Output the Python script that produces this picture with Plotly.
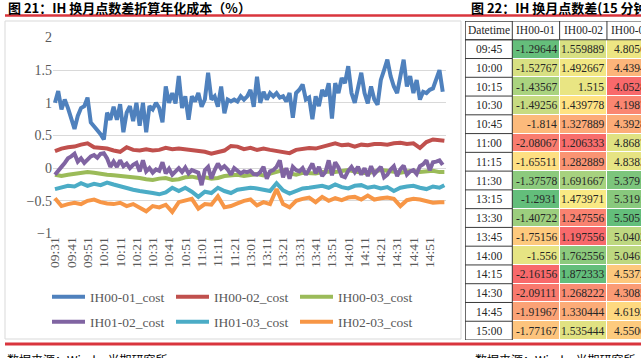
import plotly.graph_objects as go

W, H = 641, 358

# ---------------- line chart data ----------------
tick_labels = ['09:31', '09:41', '09:51', '10:01', '10:11', '10:21', '10:31', '10:41',
               '10:51', '11:01', '11:11', '11:21', '13:01', '13:11', '13:21', '13:31',
               '13:41', '13:51', '14:01', '14:11', '14:21', '14:31', '14:41', '14:51']
tick_minutes = list(range(0, 240, 10))          # minute offset of each tick label
fine_minutes = list(range(0, 240, 2))           # 2-minute samples
coarse_minutes = list(range(0, 240, 4)) + [239]  # 4-minute samples

ih00_01_cost = [
    1.00, 1.18, 0.90, 1.05, 0.92, 0.75, 0.60, 0.80, 0.92, 0.95,
    1.08, 0.70, 0.65, 0.58, 0.52, 0.44, 0.85, 0.74, 0.94, 0.74,
    0.98, 0.55, 0.85, 0.95, 0.72, 1.00, 0.65, 1.00, 0.55, 0.95,
    0.90, 1.00, 0.92, 0.70, 1.25, 1.00, 1.15, 0.99, 1.41, 0.92,
    1.10, 0.74, 1.10, 1.02, 1.15, 0.94, 1.05, 1.46, 1.05, 1.10,
    0.94, 1.25, 0.84, 1.05, 1.02, 1.05, 1.02, 1.10, 1.05, 1.10,
    1.20, 0.94, 1.40, 1.00, 1.17, 1.05, 1.15, 1.10, 1.15, 1.08,
    1.10, 1.02, 1.15, 0.77, 1.15, 1.20, 1.28, 1.05, 1.08, 0.75,
    1.10, 0.95, 1.20, 1.10, 1.30, 0.76, 1.30, 1.15, 1.38, 1.30,
    1.56, 1.15, 1.00, 1.25, 1.46, 1.15, 0.99, 1.25, 1.05, 0.97,
    1.35, 1.50, 1.66, 1.41, 1.25, 1.15, 1.40, 1.66, 1.25, 1.41,
    1.15, 1.35, 1.05, 1.17, 1.15, 1.20, 1.22, 1.35, 1.50, 1.17]

ih01_02_cost = [
    -0.10, -0.03, 0.02, 0.08, 0.15, 0.18, 0.22, 0.10, 0.15, 0.08,
    0.14, 0.18, 0.20, 0.16, 0.22, 0.23, 0.15, 0.02, 0.10, 0.02,
    0.12, 0.03, 0.07, 0.00, 0.05, 0.08, -0.05, 0.12, -0.05, 0.00, -0.07, -0.02,
    -0.04, 0.09, -0.08, -0.01, -0.10, -0.04, 0.00, -0.06, 0.01, -0.08, -0.03, -0.05,
    -0.07, -0.26, -0.03, 0.02, -0.16, -0.03, 0.07, -0.01, 0.03, -0.02, -0.10, 0.00,
    -0.05, -0.08, -0.05, -0.06, -0.04, -0.09, -0.10, -0.06, 0.02, -0.16, -0.05, -0.03,
    0.02, 0.12, -0.14, 0.00, -0.16, 0.02, -0.03, -0.05, 0.00, -0.10, -0.02, 0.07,
    -0.08, 0.02, -0.12, -0.06, 0.12, -0.11, 0.09, 0.01, -0.12, -0.14, -0.04, 0.02,
    -0.06, 0.02, -0.10, 0.00, -0.12, 0.03, -0.09, -0.03, 0.02, -0.14, -0.10, -0.02,
    0.03, -0.12, -0.02, 0.04, -0.10, -0.05, -0.03, -0.09, 0.03, 0.06, 0.12, -0.03,
    0.09, 0.10, 0.12, 0.05]

ih00_02_cost = [
    0.26, 0.30, 0.32, 0.33, 0.36, 0.38, 0.32, 0.31, 0.30, 0.27,
    0.25, 0.32, 0.28, 0.27, 0.29, 0.27, 0.28, 0.31, 0.29, 0.30,
    0.29, 0.27, 0.26, 0.25, 0.22, 0.24, 0.27, 0.34, 0.33, 0.29,
    0.31, 0.28, 0.30, 0.28, 0.26, 0.25, 0.23, 0.28, 0.29, 0.31,
    0.30, 0.33, 0.35, 0.38, 0.35, 0.36, 0.33, 0.36, 0.35, 0.37,
    0.37, 0.36, 0.38, 0.39, 0.37, 0.38, 0.31, 0.40, 0.44, 0.43,
    0.42]

ih00_03_cost = [
    -0.10, -0.12, -0.10, -0.09, -0.08, -0.06, -0.07, -0.09, -0.10, -0.11,
    -0.12, -0.12, -0.14, -0.15, -0.17, -0.18, -0.16, -0.15, -0.18, -0.17,
    -0.14, -0.13, -0.15, -0.14, -0.16, -0.15, -0.12, -0.11, -0.10, -0.12,
    -0.10, -0.09, -0.11, -0.08, -0.05, -0.03, -0.08, -0.10, -0.07, -0.08,
    -0.08, -0.06, -0.05, -0.06, -0.04, -0.03, -0.05, -0.06, -0.08, -0.05,
    -0.03, -0.04, -0.06, -0.07, -0.05, -0.04, -0.06, -0.05, -0.04, -0.06,
    -0.06]

ih01_03_cost = [
    -0.32, -0.30, -0.27, -0.28, -0.23, -0.27, -0.24, -0.26, -0.22, -0.25,
    -0.28, -0.30, -0.33, -0.35, -0.36, -0.38, -0.40, -0.37, -0.30, -0.35,
    -0.30, -0.36, -0.44, -0.36, -0.38, -0.30, -0.35, -0.38, -0.33, -0.32,
    -0.30, -0.31, -0.33, -0.35, -0.23, -0.34, -0.39, -0.35, -0.31, -0.30,
    -0.28, -0.27, -0.30, -0.25, -0.29, -0.31, -0.27, -0.26, -0.30, -0.28,
    -0.31, -0.29, -0.35, -0.30, -0.28, -0.27, -0.30, -0.32, -0.28, -0.30,
    -0.26]

ih02_03_cost = [
    -0.46, -0.58, -0.55, -0.53, -0.55, -0.50, -0.48, -0.52, -0.54, -0.55,
    -0.53, -0.58, -0.55, -0.60, -0.66, -0.58, -0.60, -0.56, -0.67, -0.52,
    -0.50, -0.47, -0.62, -0.55, -0.56, -0.43, -0.60, -0.58, -0.54, -0.50,
    -0.48, -0.57, -0.52, -0.55, -0.32, -0.55, -0.60, -0.50, -0.47, -0.45,
    -0.52, -0.44, -0.50, -0.46, -0.49, -0.45, -0.44, -0.48, -0.42, -0.48,
    -0.46, -0.45, -0.47, -0.58, -0.49, -0.47, -0.48, -0.50, -0.53, -0.52,
    -0.52]

y_ticks = [-1, -0.5, 0, 0.5, 1, 1.5, 2]

# ---------------- table data ----------------
table_header = ['Datetime', 'IH00-01', 'IH00-02', 'IH00-03']
table_times = ['09:45', '10:00', '10:15', '10:30', '10:45', '11:00', '11:15', '11:30',
               '13:15', '13:30', '13:45', '14:00', '14:15', '14:30', '14:45', '15:00']
tbl_ih00_01 = [-1.29644, -1.52767, -1.43567, -1.49256, -1.814, -2.08067, -1.65511, -1.37578,
               -1.2931, -1.40722, -1.75156, -1.556, -2.16156, -2.09111, -1.91967, -1.77167]
tbl_ih00_02 = [1.559889, 1.492667, 1.515, 1.439778, 1.327889, 1.206333, 1.282889, 1.691667,
               1.473971, 1.247556, 1.197556, 1.762556, 1.872333, 1.268222, 1.330444, 1.535444]
tbl_ih00_03 = [4.8056, 4.4394, 4.0528, 4.1987, 4.3928, 4.8687, 4.8383, 5.3791,
               5.3191, 5.5051, 5.0402, 5.0461, 4.5372, 4.3085, 4.6193, 4.5506]

# ---------------- helpers ----------------
def fx(p):
    return p / W

def fy(p):
    return 1 - p / H

def excel_scale(vals):
    s = sorted(vals)
    n = len(s)
    med = (s[n // 2 - 1] + s[n // 2]) / 2 if n % 2 == 0 else s[n // 2]
    lo, hi = s[0], s[-1]
    out = []
    for v in vals:
        if v <= med:
            out.append(0.5 * (v - lo) / (med - lo) if med > lo else 0.5)
        else:
            out.append(0.5 + 0.5 * (v - med) / (hi - med))
    return out

fig = go.Figure()

series = [
    ('IH00-01_cost', fine_minutes, ih00_01_cost, '#4F81BD', 'legend'),
    ('IH00-02_cost', coarse_minutes, ih00_02_cost, '#C0504D', 'legend'),
    ('IH00-03_cost', coarse_minutes, ih00_03_cost, '#9BBB59', 'legend'),
    ('IH01-02_cost', fine_minutes, ih01_02_cost, '#8064A2', 'legend2'),
    ('IH01-03_cost', coarse_minutes, ih01_03_cost, '#4BACC6', 'legend2'),
    ('IH02-03_cost', coarse_minutes, ih02_03_cost, '#F79646', 'legend2'),
]
for name, xs, ys, col, lg in series:
    fig.add_trace(go.Scatter(x=xs, y=ys, name=name, mode='lines',
                             line=dict(color=col, width=4), legend=lg,
                             xaxis='x', yaxis='y', hoverinfo='skip'))

# ---------------- heatmap table ----------------
cols = [tbl_ih00_01, tbl_ih00_02, tbl_ih00_03]
norm = [excel_scale(c) for c in cols]
nrows = len(table_times) + 1
z = [[None] * 4]
for r in range(len(table_times)):
    z.append([None] + [norm[c][r] for c in range(3)])

fig.add_trace(go.Heatmap(
    z=z, x=list(range(4)), y=list(range(nrows)),
    colorscale=[[0, '#F8696B'], [0.5, '#FFEB84'], [1, '#63BE7B']],
    zmin=0, zmax=1, showscale=False, xgap=1, ygap=1,
    xaxis='x2', yaxis='y2', hoverinfo='skip'))

x2_right = 3.22
shapes = []
annotations = []
line_dark = dict(color='#3a3a3a', width=1)
# Datetime column borders
for r in range(nrows + 1):
    shapes.append(dict(type='line', xref='x2', yref='y2', x0=-0.5, x1=0.5,
                       y0=r - 0.5, y1=r - 0.5, line=line_dark))
shapes.append(dict(type='line', xref='x2', yref='y2', x0=-0.5, x1=-0.5,
                   y0=-0.5, y1=nrows - 0.5, line=dict(color='#3a3a3a', width=1.5)))
shapes.append(dict(type='line', xref='x2', yref='y2', x0=0.5, x1=0.5,
                   y0=-0.5, y1=nrows - 0.5, line=line_dark))
# header borders
for yy in (-0.5, 0.5):
    shapes.append(dict(type='line', xref='x2', yref='y2', x0=-0.5, x1=x2_right,
                       y0=yy, y1=yy, line=line_dark))
for xx in (1.5, 2.5):
    shapes.append(dict(type='line', xref='x2', yref='y2', x0=xx, x1=xx,
                       y0=-0.5, y1=0.5, line=line_dark))

cell_font = dict(family='Liberation Serif', size=11.5, color='#262626')
for c, h in enumerate(table_header):
    annotations.append(dict(x=c, y=0, xref='x2', yref='y2', text=h, showarrow=False,
                            xanchor='center', yanchor='middle', font=cell_font))
for r, t in enumerate(table_times):
    annotations.append(dict(x=0, y=r + 1, xref='x2', yref='y2', text=t, showarrow=False,
                            xanchor='center', yanchor='middle', font=cell_font))
    for c in range(2):
        annotations.append(dict(x=c + 1.5, y=r + 1, xref='x2', yref='y2',
                                text=str(cols[c][r]), showarrow=False, xanchor='right',
                                xshift=-1, yanchor='middle', font=cell_font))
    annotations.append(dict(x=2.5, y=r + 1, xref='x2', yref='y2',
                            text=str(cols[2][r]), showarrow=False, xanchor='left',
                            xshift=5, yanchor='middle', font=cell_font))

# ---------------- decorations ----------------
red = '#D9353D'
shapes.append(dict(type='rect', xref='paper', yref='paper', x0=fx(5), x1=fx(461),
                   y0=fy(339), y1=fy(21), line=dict(color='#d9d9d9', width=1)))
shapes.append(dict(type='line', xref='paper', yref='paper', x0=fx(5), x1=1,
                   y0=fy(15.5), y1=fy(15.5), line=dict(color=red, width=2.5)))
shapes.append(dict(type='line', xref='paper', yref='paper', x0=fx(5), x1=1,
                   y0=fy(344), y1=fy(344), line=dict(color=red, width=3)))

title_font = dict(family='Noto Sans CJK SC', size=13, color='#000000')
annotations.append(dict(x=fx(6), y=fy(7.5), xref='paper', yref='paper', showarrow=False,
                        xanchor='left', yanchor='middle', font=title_font,
                        text='<b>图 21：IH 换月点数差折算年化成本（%）</b>'))
annotations.append(dict(x=fx(469), y=fy(7.5), xref='paper', yref='paper', showarrow=False,
                        xanchor='left', yanchor='middle', font=title_font,
                        text='<b>图 22：IH 换月点数差(15 分钟级别)</b>'))
foot_font = dict(family='Noto Sans CJK SC', size=12, color='#000000')
annotations.append(dict(x=fx(5), y=fy(349), xref='paper', yref='paper', showarrow=False,
                        xanchor='left', yanchor='top', font=foot_font,
                        text='数据来源：Wind，光期研究所'))
annotations.append(dict(x=fx(473), y=fy(349), xref='paper', yref='paper', showarrow=False,
                        xanchor='left', yanchor='top', font=foot_font,
                        text='数据来源：Wind，光期研究所'))

axis_font = dict(family='Liberation Serif', size=14, color='#595959')
legend_common = dict(orientation='h', xanchor='left', yanchor='middle',
                     entrywidth=76, entrywidthmode='pixels', itemwidth=33,
                     bgcolor='rgba(0,0,0,0)', borderwidth=0,
                     font=dict(family='Liberation Serif', size=13.5, color='#595959'))

fig.update_layout(
    width=W, height=H, margin=dict(l=0, r=0, t=0, b=0, autoexpand=False),
    paper_bgcolor='white', plot_bgcolor='white',
    showlegend=True,
    xaxis=dict(domain=[fx(53), fx(446)], range=[-1.2, 240], tickvals=tick_minutes,
               ticktext=tick_labels, tickangle=-90, showgrid=False, zeroline=False,
               showline=False, ticks='', automargin=False,
               tickfont=dict(family='Liberation Serif', size=13.5, color='#595959')),
    yaxis=dict(domain=[fy(233.5), fy(37.5)], range=[-1.0, 2.0], tickvals=y_ticks,
               showgrid=True, gridcolor='#d9d9d9', gridwidth=1, zeroline=False,
               showline=False, ticks='', automargin=False, tickfont=axis_font),
    xaxis2=dict(domain=[fx(465), 1], range=[-0.5, x2_right], visible=False,
                fixedrange=True, automargin=False),
    yaxis2=dict(domain=[fy(340), fy(21)], range=[nrows - 0.5, -0.5], visible=False,
                fixedrange=True, automargin=False),
    legend=dict(x=fx(47), y=fy(297), **legend_common),
    legend2=dict(x=fx(47), y=fy(322), **legend_common),
    shapes=shapes, annotations=annotations,
)

fig.write_html('out.html', config={'displayModeBar': False},
               post_script="document.body.style.margin='0';document.body.style.overflow='hidden';")
